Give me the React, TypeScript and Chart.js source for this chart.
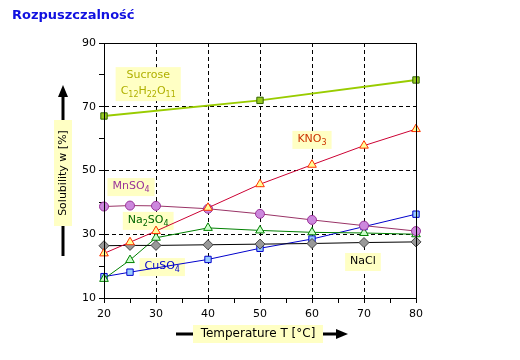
import { useEffect, useRef } from "react";
import { Chart, registerables } from "chart.js";

Chart.register(...registerables);

// ---- data ----
const temps = [20, 25, 30, 40, 50, 60, 70, 80];
const sucroseTemps = [20, 50, 80];
const sucrose = [67.1, 72.0, 78.4];
const kno3 = [24.0, 27.5, 31.0, 38.3, 45.7, 51.8, 57.8, 63.0];
const mnso4 = [38.7, 39.0, 38.9, 38.0, 36.4, 34.5, 32.7, 31.0];
const na2so4 = [16.0, 21.9, 28.9, 32.0, 31.2, 30.6, 30.4, 30.0];
const nacl = [26.4, 26.5, 26.5, 26.7, 26.9, 27.1, 27.4, 27.6];
const cuso4Temps = [20, 25, 40, 50, 60, 70, 80];
const cuso4 = [16.7, 18.1, 22.1, 25.6, 28.5, 32.4, 36.3];
const yTickLabels = [10, 30, 50, 70, 90];
const xTickLabels = [20, 30, 40, 50, 60, 70, 80];
const yGrid = [30, 50, 70];
const xGrid = [30, 40, 50, 60, 70];

const titleText = "Rozpuszczalność";
const yTitle = "Solubility w [%]";
const xTitle = "Temperature T [°C]";

type Part = [string, boolean];
const annotations: { x: number; y: number; lines: Part[][]; color: string }[] = [
  { x: 28.5, y: 77.1, lines: [[["Sucrose", false]], [["C", false], ["12", true], ["H", false], ["22", true], ["O", false], ["11", true]]], color: "#b0b000" },
  { x: 60, y: 59.6, lines: [[["KNO", false], ["3", true]]], color: "#cc3300" },
  { x: 25.2, y: 44.8, lines: [[["MnSO", false], ["4", true]]], color: "#993399" },
  { x: 28.5, y: 34.2, lines: [[["Na", false], ["2", true], ["SO", false], ["4", true]]], color: "#006600" },
  { x: 31.2, y: 19.7, lines: [[["CuSO", false], ["4", true]]], color: "#0000cc" },
  { x: 69.8, y: 21.3, lines: [[["NaCl", false]]], color: "#000000" },
];

const FONT = '"DejaVu Sans"';
const BOX = "#ffffc4";

const pts = (xs: number[], ys: number[]) => xs.map((x, i) => ({ x, y: ys[i] }));

function measureParts(ctx: CanvasRenderingContext2D, parts: Part[], size: number) {
  let total = 0;
  const widths = parts.map(([t, sub]) => {
    ctx.font = `${sub ? Math.round(size * 0.75) : size}px ${FONT}`;
    const w = ctx.measureText(t).width;
    total += w;
    return w;
  });
  return { total, widths };
}

function drawParts(ctx: CanvasRenderingContext2D, parts: Part[], cx: number, cy: number, size: number) {
  const { total, widths } = measureParts(ctx, parts, size);
  let x = cx - total / 2;
  ctx.textBaseline = "middle";
  ctx.textAlign = "left";
  parts.forEach(([t, sub], i) => {
    ctx.font = `${sub ? Math.round(size * 0.75) : size}px ${FONT}`;
    ctx.fillText(t, x, cy + (sub ? size * 0.35 : 0));
    x += widths[i];
  });
}

const decorPlugin = {
  id: "decor",
  beforeDatasetsDraw(chart: any) {
    const ctx: CanvasRenderingContext2D = chart.ctx;
    const xs = chart.scales.x;
    const ys = chart.scales.y;
    ctx.save();
    const size = 11;
    annotations.forEach((a) => {
      const cx = xs.getPixelForValue(a.x);
      const cy = ys.getPixelForValue(a.y);
      const lh = 16;
      let maxW = 0;
      a.lines.forEach((l) => {
        maxW = Math.max(maxW, measureParts(ctx, l, size).total);
      });
      const w = maxW + 10;
      const h = a.lines.length * lh + 2;
      ctx.fillStyle = BOX;
      ctx.fillRect(cx - w / 2, cy - h / 2, w, h);
      ctx.fillStyle = a.color;
      a.lines.forEach((l, i) => {
        drawParts(ctx, l, cx, cy - h / 2 + 1 + lh * i + lh / 2 - 1, size);
      });
    });
    ctx.restore();
  },
  afterDraw(chart: any) {
    const ctx: CanvasRenderingContext2D = chart.ctx;
    const { left, right, top, bottom } = chart.chartArea;
    ctx.save();
    // plot frame
    ctx.strokeStyle = "#000";
    ctx.lineWidth = 1;
    ctx.setLineDash([]);
    ctx.strokeRect(Math.round(left) + 0.5, Math.round(top) + 0.5, Math.round(right - left), Math.round(bottom - top));

    // title
    ctx.fillStyle = "#1010e0";
    ctx.font = `bold 13px ${FONT}`;
    ctx.textAlign = "left";
    ctx.textBaseline = "alphabetic";
    ctx.fillText(titleText, 12, 19);

    // y axis title with arrow
    ctx.fillStyle = "#000";
    ctx.strokeStyle = "#000";
    ctx.lineWidth = 3;
    ctx.beginPath();
    ctx.moveTo(63, 256);
    ctx.lineTo(63, 96);
    ctx.stroke();
    ctx.beginPath();
    ctx.moveTo(63, 85);
    ctx.lineTo(58, 97);
    ctx.lineTo(68, 97);
    ctx.closePath();
    ctx.fill();
    ctx.fillStyle = BOX;
    ctx.fillRect(54, 120, 18, 106);
    ctx.save();
    ctx.translate(63, 173);
    ctx.rotate(-Math.PI / 2);
    ctx.fillStyle = "#000";
    ctx.font = `11px ${FONT}`;
    ctx.textAlign = "center";
    ctx.textBaseline = "middle";
    ctx.fillText(yTitle, 0, 0);
    ctx.restore();

    // x axis title with arrow
    ctx.fillStyle = "#000";
    ctx.beginPath();
    ctx.moveTo(176, 334);
    ctx.lineTo(337, 334);
    ctx.stroke();
    ctx.beginPath();
    ctx.moveTo(348, 334);
    ctx.lineTo(336, 329);
    ctx.lineTo(336, 339);
    ctx.closePath();
    ctx.fill();
    ctx.fillStyle = BOX;
    ctx.fillRect(193, 325, 130, 18);
    ctx.fillStyle = "#000";
    ctx.font = `12px ${FONT}`;
    ctx.textAlign = "center";
    ctx.textBaseline = "middle";
    ctx.fillText(xTitle, 258, 334);
    ctx.restore();
  },
};

export default function App() {
  const ref = useRef<HTMLCanvasElement>(null);
  useEffect(() => {
    if (!ref.current) return;
    Chart.defaults.font.family = FONT;
    const common = { clip: false, borderWidth: 1, pointBorderWidth: 1 };
    const chart = new Chart(ref.current, {
      type: "line",
      data: {
        datasets: [
          {
            ...common,
            label: "Sucrose",
            data: pts(sucroseTemps, sucrose),
            borderColor: "#99cc00",
            borderWidth: 2,
            pointStyle: "rect",
            pointRadius: 4.5,
            pointBackgroundColor: "#99cc22",
            pointBorderColor: "#336600",
          },
          {
            ...common,
            label: "KNO3",
            data: pts(temps, kno3),
            borderColor: "#cc0033",
            pointStyle: "triangle",
            pointRadius: 5,
            pointBackgroundColor: "#ffff99",
            pointBorderColor: "#ff3300",
          },
          {
            ...common,
            label: "MnSO4",
            data: pts(temps, mnso4),
            borderColor: "#993366",
            pointStyle: "circle",
            pointRadius: 4.5,
            pointBackgroundColor: "#cc88dd",
            pointBorderColor: "#993399",
          },
          {
            ...common,
            label: "NaCl",
            data: pts(temps, nacl),
            borderColor: "#000000",
            pointStyle: "rectRot",
            pointRadius: 5,
            pointBackgroundColor: "#999999",
            pointBorderColor: "#444444",
          },
          {
            ...common,
            label: "Na2SO4",
            data: pts(temps, na2so4),
            borderColor: "#008000",
            pointStyle: "triangle",
            pointRadius: 5,
            pointBackgroundColor: "#ccffcc",
            pointBorderColor: "#008000",
          },
          {
            ...common,
            label: "CuSO4",
            data: pts(cuso4Temps, cuso4),
            borderColor: "#0000cc",
            pointStyle: "rect",
            pointRadius: 4.5,
            pointBackgroundColor: "#99ccff",
            pointBorderColor: "#0000cc",
          },
        ],
      },
      options: {
        animation: false,
        responsive: false,
        devicePixelRatio: 1,
        layout: { padding: { left: 64, right: 104, top: 43, bottom: 32 } },
        plugins: { legend: { display: false }, title: { display: false }, tooltip: { enabled: false } },
        elements: { line: { tension: 0 } },
        scales: {
          x: {
            type: "linear",
            min: 20,
            max: 80,
            ticks: {
              stepSize: 5,
              color: "#000",
              font: { size: 11 },
              padding: 5,
              maxRotation: 0,
              autoSkip: false,
              callback: (v: any) => (xTickLabels.includes(Number(v)) ? String(v) : ""),
            },
            grid: {
              color: (c: any) => (xGrid.includes(c.tick?.value) ? "#000" : "rgba(0,0,0,0)"),
              tickColor: "#000",
              tickLength: 5,
              lineWidth: 1,
            },
            border: { display: true, color: "#000", dash: [4, 3] },
            afterFit: (s: any) => {
              s.height = 30;
            },
          },
          y: {
            type: "linear",
            min: 10,
            max: 90,
            ticks: {
              stepSize: 10,
              color: "#000",
              font: { size: 11 },
              padding: 3,
              autoSkip: false,
              callback: (v: any) => (yTickLabels.includes(Number(v)) ? String(v) : ""),
            },
            grid: {
              color: (c: any) => (yGrid.includes(c.tick?.value) ? "#000" : "rgba(0,0,0,0)"),
              tickColor: "#000",
              tickLength: 5,
              lineWidth: 1,
            },
            border: { display: true, color: "#000", dash: [4, 3] },
            afterFit: (s: any) => {
              s.width = 40;
            },
          },
        },
      },
      plugins: [decorPlugin],
    } as any);
    return () => chart.destroy();
  }, []);
  return (
    <div style={{ position: "fixed", left: 0, top: 0, width: 520, height: 360, background: "#fff" }}>
      <canvas ref={ref} width={520} height={360} style={{ display: "block" }} />
    </div>
  );
}
